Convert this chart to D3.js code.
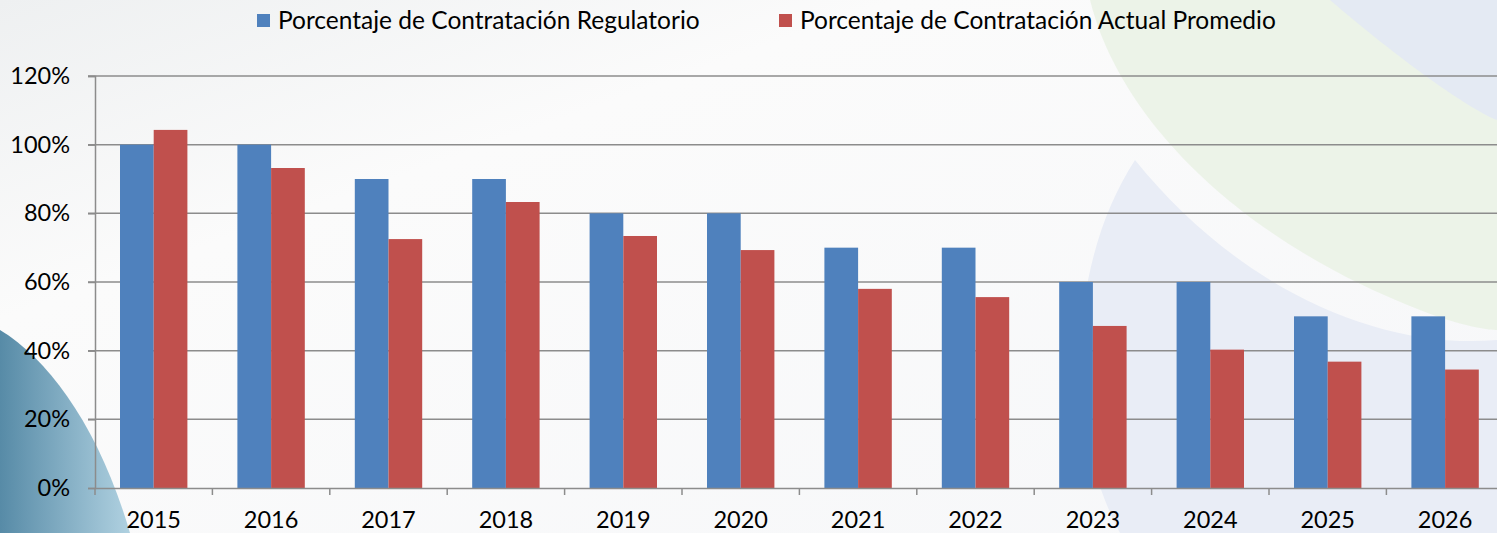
<!DOCTYPE html>
<html>
<head>
<meta charset="utf-8">
<script src="https://cdn.jsdelivr.net/npm/d3@7"></script>
<style>
  body { margin: 0; background: #fff; }
  svg { display: block; font-family: Lato, 'Open Sans', sans-serif; }
</style>
</head>
<body>
<div id="chart"></div>
<script>
const WIDTH = 1497;
const HEIGHT = 533;

const years = ['2015', '2016', '2017', '2018', '2019', '2020', '2021', '2022', '2023', '2024', '2025', '2026'];
const regulatorio = [1.00, 1.00, 0.90, 0.90, 0.80, 0.80, 0.70, 0.70, 0.60, 0.60, 0.50, 0.50];
const actual = [1.043, 0.932, 0.725, 0.833, 0.734, 0.693, 0.580, 0.556, 0.472, 0.403, 0.368, 0.345];
const seriesNames = ['Porcentaje de Contratación Regulatorio', 'Porcentaje de Contratación Actual Promedio'];
const colours = ['#4f81bd', '#c0504d'];
const yTicks = [0, 0.2, 0.4, 0.6, 0.8, 1.0, 1.2];

function translate(x, y) {
  return `translate(${x}, ${y})`;
}

const svg = d3.select('#chart').append('svg')
  .attr('width', WIDTH)
  .attr('height', HEIGHT);

// Background decoration (rough stand-in for the slide artwork)
const defs = svg.append('defs');
const bgGrad = defs.append('linearGradient').attr('id', 'bg')
  .attr('x1', 0).attr('y1', 0).attr('x2', 1).attr('y2', 1);
bgGrad.append('stop').attr('offset', 0).attr('stop-color', '#eef0f1');
bgGrad.append('stop').attr('offset', 0.3).attr('stop-color', '#fbfbfb');
bgGrad.append('stop').attr('offset', 1).attr('stop-color', '#f6f7f9');

const bldGrad = defs.append('linearGradient').attr('id', 'bld')
  .attr('x1', 0).attr('y1', 0).attr('x2', 1).attr('y2', 0);
bldGrad.append('stop').attr('offset', 0).attr('stop-color', '#3a7798');
bldGrad.append('stop').attr('offset', 1).attr('stop-color', '#a3cadc');

svg.append('rect').attr('width', WIDTH).attr('height', HEIGHT).attr('fill', 'url(#bg)');

// right side swooshes
svg.append('path')
  .attr('d', 'M1090,0 C1120,120 1240,240 1420,310 C1470,330 1497,330 1497,330 L1497,0 Z')
  .attr('fill', '#e9f1e4').attr('opacity', 0.8);
svg.append('path')
  .attr('d', 'M1330,0 C1400,60 1470,110 1497,120 L1497,0 Z')
  .attr('fill', '#e4eaf3');
svg.append('path')
  .attr('d', 'M1135,160 C1070,260 1060,420 1120,533 L1497,533 L1497,340 C1380,350 1240,290 1135,160 Z')
  .attr('fill', '#e9edf6');

// bottom-left building
svg.append('path')
  .attr('d', 'M0,330 C50,360 100,430 130,533 L0,533 Z')
  .attr('fill', 'url(#bld)').attr('opacity', 0.85);

const margin = {top: 76, left: 95};
const innerW = 117.4 * 12;
const innerH = 412;

const g = svg.append('g').attr('transform', translate(margin.left, margin.top));

const x0 = d3.scaleBand().domain(years).range([0, innerW]);
const x1 = d3.scaleBand().domain([0, 1]).range([25, x0.bandwidth() - 25]);
const y = d3.scaleLinear().domain([0, 1.2]).range([innerH, 0]);

// gridlines
g.append('g')
  .selectAll('line')
  .data(yTicks.slice(1))
  .join('line')
  .attr('x1', -7)
  .attr('x2', innerW)
  .attr('y1', d => y(d))
  .attr('y2', d => y(d))
  .attr('stroke', '#8c8c8c')
  .attr('stroke-width', 1.5);

// bars
const groups = g.append('g')
  .selectAll('g')
  .data(years)
  .join('g')
  .attr('transform', d => translate(x0(d), 0));

groups.selectAll('rect')
  .data((d, i) => [regulatorio[i], actual[i]])
  .join('rect')
  .attr('x', (d, j) => x1(j))
  .attr('width', x1.bandwidth())
  .attr('y', d => y(d))
  .attr('height', d => innerH - y(d))
  .attr('fill', (d, j) => colours[j]);

// y axis
const yAxis = g.append('g')
  .call(d3.axisLeft(y).tickValues(yTicks).tickFormat(d3.format('.0%')).tickSize(7).tickPadding(18));
yAxis.select('.domain').attr('stroke', '#8c8c8c').attr('stroke-width', 1.5);
yAxis.selectAll('.tick line').attr('stroke', '#8c8c8c').attr('stroke-width', 1.5);
yAxis.selectAll('.tick text')
  .attr('font-size', 23.5)
  .attr('font-family', 'Lato, sans-serif')
  .attr('fill', '#000');

// x axis
const xAxis = g.append('g')
  .attr('transform', translate(0, innerH))
  .call(d3.axisBottom(x0).tickSize(0).tickPadding(23));
xAxis.select('.domain').attr('stroke', '#8c8c8c').attr('stroke-width', 1.5);
xAxis.selectAll('.tick text')
  .attr('font-size', 23.5)
  .attr('font-family', 'Lato, sans-serif')
  .attr('fill', '#000');

// category separators
g.append('g')
  .selectAll('line')
  .data(years)
  .join('line')
  .attr('x1', d => x0(d))
  .attr('x2', d => x0(d))
  .attr('y1', innerH)
  .attr('y2', innerH + 7)
  .attr('stroke', '#8c8c8c')
  .attr('stroke-width', 1.5);

// legend
const legendX = [257, 779];
const legend = svg.append('g')
  .selectAll('g')
  .data(seriesNames)
  .join('g')
  .attr('transform', (d, i) => translate(legendX[i], 14));

legend.append('rect')
  .attr('width', 13)
  .attr('height', 13)
  .attr('fill', (d, i) => colours[i]);

legend.append('text')
  .attr('x', 21)
  .attr('y', 15)
  .attr('font-size', 24.5)
  .attr('fill', '#000')
  .text(d => d);
</script>
</body>
</html>
